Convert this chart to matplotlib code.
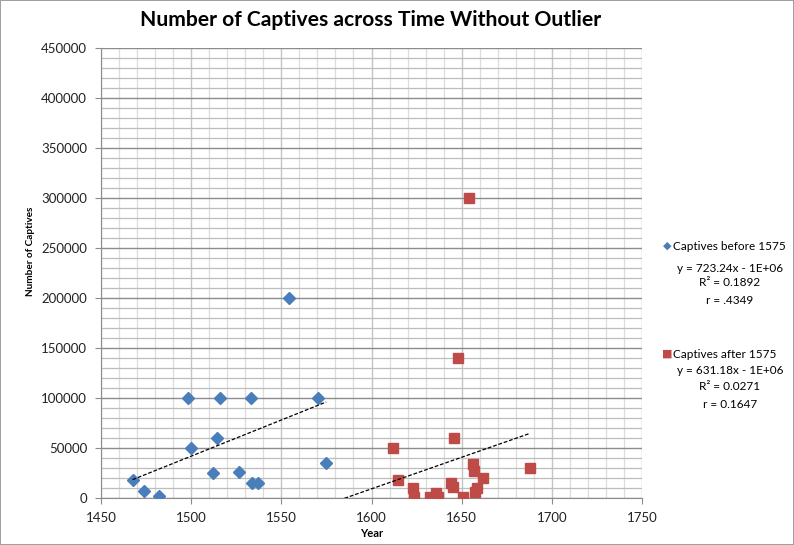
import matplotlib.pyplot as plt
from matplotlib.ticker import MultipleLocator
import numpy as np

# captives before 1575
years_before = [1467.5, 1474, 1482, 1498, 1500, 1512, 1514.6, 1516, 1526.6,
                1533, 1533.8, 1536.9, 1554.5, 1570.5, 1574.9]
captives_before = [18000, 7000, 2500, 100000, 50000, 25500, 60000, 100000, 26000,
                   100000, 15000, 15000, 200000, 100000, 35000]

# captives after 1575
years_after = [1611.8, 1614.6, 1622.9, 1623.7, 1632.2, 1635.9, 1636.8, 1643.8,
               1645.1, 1645.5, 1648.1, 1651, 1653.9, 1656.2, 1657, 1657.6,
               1658.6, 1662, 1688]
captives_after = [50000, 18000, 10000, 1500, 1500, 5000, 1500, 15000,
                  11000, 60000, 140000, 1500, 300000, 34000, 27000, 6000,
                  10500, 20000, 30000]

# trendlines as drawn (slope, intercept, x range)
trend_slope = [723.24, 631.18]
trend_intercept = [-1043000, -1000700]
trend_x = [[1467.5, 1574.9], [1585, 1688]]

series_names = ["Captives before 1575", "Captives after 1575"]
trend_labels = [["y = 723.24x - 1E+06", "R\u00b2 = 0.1892", "r = .4349"],
                ["y = 631.18x - 1E+06", "R\u00b2 = 0.0271", "r = 0.1647"]]

blue = "#4a7ebb"
red = "#be4b48"
font = "Lato"
plt.rcParams['font.family'] = [font, 'DejaVu Sans']

fig = plt.figure(figsize=(7.94, 5.45), dpi=100)
fig.patch.set_edgecolor("#a0a0a0")
fig.patch.set_linewidth(1.2)
ax = fig.add_axes([0.1272, 0.0862, 0.6814, 0.8257])

ax.set_xlim(1450, 1750)
ax.set_ylim(0, 450000)
ax.xaxis.set_major_locator(MultipleLocator(50))
ax.xaxis.set_minor_locator(MultipleLocator(10))
ax.yaxis.set_major_locator(MultipleLocator(50000))
ax.yaxis.set_minor_locator(MultipleLocator(10000))

ax.grid(axis="y", which="major", color="#8c8c8c", lw=1.0)
ax.grid(axis="y", which="minor", color="#bdbdbd", lw=0.9)
ax.grid(axis="x", which="major", color="#c4c4c4", lw=1.0)
ax.grid(axis="x", which="minor", color="#dcdcdc", lw=0.9)
ax.set_axisbelow(True)

for s in ax.spines.values():
    s.set_color("#8c8c8c")
ax.spines["top"].set_visible(False)
ax.spines["right"].set_visible(False)

ax.tick_params(which="major", length=4, color="#8c8c8c", labelsize=9.5,
               labelcolor="#222222", pad=6)
ax.tick_params(which="minor", length=0)

ax.plot(years_before, captives_before, ls="none", marker="D", ms=6.2,
        color=blue, mec=blue, zorder=3)
ax.plot(years_after, captives_after, ls="none", marker="s", ms=7.6,
        color=red, mec=red, zorder=3)

for k in range(2):
    xs = np.array(trend_x[k])
    ax.plot(xs, trend_slope[k] * xs + trend_intercept[k], color="black",
            lw=0.9, ls=(0, (3, 1.5)), zorder=4)

ax.set_xlabel("Year", fontsize=8, fontweight="bold", labelpad=3)
ax.set_ylabel("Number of Captives", fontsize=7.2, fontweight="bold")
ax.yaxis.set_label_coords(-0.122, 0.549)

fig.text(0.467, 0.963, "Number of Captives across Time Without Outlier",
         fontsize=15.2, fontweight="bold", ha="center", va="center")

# legend with trendline info
leg_y = [246, 354]
marks = ["\u25c6", "\u25a0"]
cols = [blue, red]
for k in range(2):
    y0 = leg_y[k]
    fig.text(667 / 794, 1 - y0 / 545, marks[k], color=cols[k], fontsize=8,
             family="DejaVu Sans", ha="center", va="center")
    fig.text(673 / 794, 1 - y0 / 545, series_names[k], fontsize=8.5,
             ha="left", va="center")
    for j, t in enumerate(trend_labels[k]):
        yy = y0 + [23, 37, 55][j] if k == 0 else y0 + [16, 33, 50][j]
        fig.text(730 / 794, 1 - yy / 545, t, fontsize=8.5, ha="center", va="center")

fig.savefig("out.png", dpi=100)
